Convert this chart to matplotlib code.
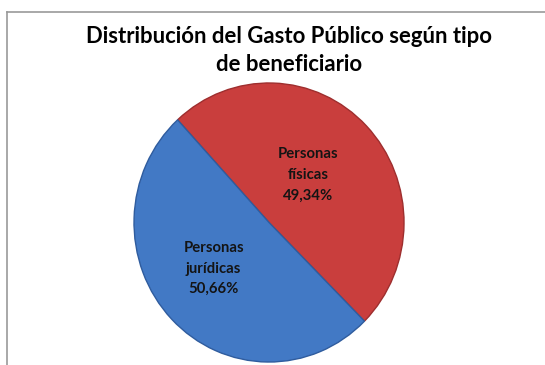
import matplotlib.pyplot as plt
from matplotlib.lines import Line2D

# data
categories = ['Personas\nfísicas', 'Personas\njurídicas']
shares = [49.34, 50.66]
colors = ['#C93E3D', '#4279C5']
edge_colors = ['#9E2E2E', '#2F5C9E']
title = 'Distribución del Gasto Público según tipo\nde beneficiario'

plt.rcParams['font.family'] = ['Lato', 'DejaVu Sans']

fig = plt.figure(figsize=(5.45, 3.65), dpi=100)
fig.patch.set_facecolor('white')

# grey frame on top and left edges, like the original screenshot
fig.add_artist(Line2D([0.0128, 1.0], [0.967, 0.967], color='#999999', lw=1.2))
fig.add_artist(Line2D([0.0128, 0.0128], [0.0, 0.967], color='#999999', lw=1.2))

ax = fig.add_axes([0.2459, 0.0082, 0.4954, 0.7644])
wedges, texts = ax.pie(shares, colors=colors, startangle=-45, counterclock=True,
                       radius=1.0, labels=None,
                       wedgeprops=dict(linewidth=1.0))
for w, ec in zip(wedges, edge_colors):
    w.set_edgecolor(ec)
ax.set_aspect('auto')
ax.set_xlim(-1, 1)
ax.set_ylim(-1, 1)

# label positions inside the slices
label_pos = [(0.29, 0.34), (-0.41, -0.33)]
for cat, val, pos in zip(categories, shares, label_pos):
    txt = cat + '\n' + f'{val:.2f}'.replace('.', ',') + '%'
    ax.text(pos[0], pos[1], txt, ha='center', va='center', fontsize=10.7,
            fontweight='bold', color='#141414', linespacing=1.6)

fig.text(0.530, 0.862, title, ha='center', va='center', fontsize=15.9,
         fontweight='bold', color='black', linespacing=1.38)

fig.savefig('out.png', dpi=100)
